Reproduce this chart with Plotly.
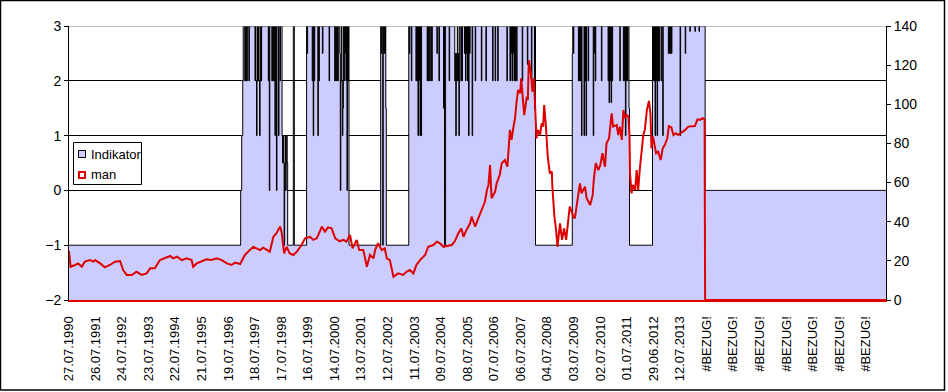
import plotly.graph_objects as go

# ---------------- data ----------------
N_WEEKS = 1600
tick_labels = ["27.07.1990", "26.07.1991", "24.07.1992", "23.07.1993", "22.07.1994",
               "21.07.1995", "19.07.1996", "18.07.1997", "17.07.1998", "16.07.1999",
               "14.07.2000", "13.07.2001", "12.07.2002", "11.07.2003", "09.07.2004",
               "08.07.2005", "07.07.2006", "06.07.2007", "04.07.2008", "03.07.2009",
               "02.07.2010", "01.07.2011", "29.06.2012", "12.07.2013"] + ["#BEZUG!"] * 7
LABEL_EVERY = 52
legend_names = ["Indikator", "man"]

# Indikator: level segments (start week, level)
ind_start = [0, 336, 338, 340, 341, 428, 439, 441, 465, 548, 610, 621, 665, 913, 985, 986, 1097, 1142, 1245]
ind_level = [-1, 0, 1, 2, 3, -1, 3, -1, 3, -1, 3, -1, 3, -1, 2.5, 3, -1, 3, 0]

# Indikator: one-week dips inside the high blocks (week, level)
dip_week = [344, 346, 348, 352, 364, 366, 367, 368, 370, 372, 373, 374, 376, 390, 392, 397, 399, 401, 403,
            406, 410, 413, 417, 418, 419, 420, 421, 422, 423, 424, 425, 426, 427,
            466, 476, 478, 480, 487, 489, 496, 509, 520, 522, 524, 526, 530, 531, 532, 534, 535, 536, 538,
            540, 542, 544, 546,
            611, 614, 616, 618, 620,
            666, 670, 679, 681, 683, 685, 687, 689, 701, 703, 705, 708, 710, 720, 724, 733, 735, 736, 744,
            755, 756, 757, 758, 759, 761, 762, 763, 767, 769, 774, 776, 778, 780, 782, 784, 789, 795, 807,
            816, 829, 834, 839, 857, 863, 865, 867, 869, 871, 873, 876, 887, 897, 905, 911,
            987, 997, 999, 1001, 1003, 1008, 1010, 1012, 1016, 1026, 1028, 1030, 1042, 1055, 1057, 1059,
            1061, 1063, 1078, 1085, 1087, 1089, 1091, 1093, 1096,
            1143, 1145, 1147, 1149, 1151, 1153, 1155, 1159, 1162, 1173, 1175, 1177, 1179, 1196, 1206,
            1215, 1225, 1233]
dip_level = [2, 2, 2, 2, 2, 2, 1, 2, 2, 2, 1, 2, 2, 2, 0, 2, 2, 2, 1,
             0, 1, 2, 1, 0.5, 1, 0.5, -1, 0.5, 1, 0, 0.5, 1, 0.5,
             2.5, 2, 1, 2, 1, 2, 2.5, 2, 2, 2, 2, 2, 2.5, 0, 2, 2, 1, 1.5, 2,
             2.5, 2, 0, 2,
             2.5, -1, 2.5, 2.5, 1.5,
             2.5, 2, 2, 2, 1, 2, 1, 1, 2, 2, 2, 2, 2, 2.5, 2, 1.5, -1, -1, 2,
             2, 2.5, 1, 2.5, 2, 2, 2.5, 1, 2, 2, 2.5, 2, 2.5, 2, 1, 2.5, 1, 2, 2,
             2, 2, 2, 2, 2, 2, 2.5, 2, 2.5, 2, 2, 2, 2, 2.3, 2, 1.5,
             2.5, 2, 2, 2, 1, 1, 2, 1, 2, 1, 2.5, 2, 2, 2, 1.6, 2,
             1.6, 2, 2, 2, 2, 1, 2, 2, 1.5,
             2, 2, 1, 2, 1, 2, 2, 2, 1, 2.5, 2.5, 2.5, 2.5, 1, 2.5,
             2.9, 2.9, 2.9]

# man (right axis)
man_week = [0, 3, 12, 18, 25, 31, 41, 48, 51, 61, 70, 80, 90, 100, 106, 113, 123, 132, 142, 152, 159, 168,
            178, 188, 198, 204, 211, 221, 230, 240, 243, 250, 260, 269, 279, 289, 299, 309, 318, 325, 335,
            344, 354, 361, 367, 374, 380, 387, 393, 400, 406, 413, 416, 421, 426, 432, 439, 446, 455, 462,
            472, 478, 485, 495, 501, 507, 514, 521, 530, 537, 543, 550, 555, 563, 568, 576, 583, 589, 596,
            599, 605, 612, 618, 622, 628, 635, 644, 654, 661, 667, 674, 680, 687, 697, 703, 713, 720, 726,
            733, 739, 749, 755, 762, 768, 772, 778, 785, 788, 795, 801, 808, 814, 818, 821, 824, 827, 834,
            837, 843, 847, 853, 858, 863, 866, 870, 873, 876, 879, 883, 885, 889, 891, 896, 898, 900, 904,
            907, 910, 912, 915, 918, 922, 925, 928, 930, 933, 937, 941, 945, 946, 950, 953, 956, 961, 965,
            969, 973, 976, 980, 985, 987, 990, 994, 997, 1000, 1003, 1010, 1013, 1020, 1025, 1027, 1031,
            1036, 1040, 1044, 1049, 1052, 1057, 1062, 1065, 1072, 1075, 1078, 1082, 1085, 1088, 1091, 1095,
            1097, 1098, 1101, 1104, 1108, 1111, 1114, 1117, 1121, 1124, 1127, 1131, 1135, 1138, 1140, 1143,
            1149, 1153, 1158, 1162, 1166, 1171, 1174, 1179, 1183, 1188, 1192, 1199, 1206, 1212, 1219, 1225,
            1230, 1235, 1240, 1244, 1245, 1599]
man_value = [25.0, 17.0, 17.9, 18.7, 17.0, 19.6, 20.4, 19.6, 20.4, 18.7, 16.7, 17.9, 19.6, 19.9, 15.3, 12.8,
             12.8, 14.5, 12.8, 13.6, 16.2, 16.2, 20.4, 21.3, 22.5, 21.3, 22.1, 20.4, 21.3, 20.4, 17.0, 18.7,
             19.6, 20.8, 20.4, 21.3, 20.4, 18.7, 17.9, 19.1, 18.4,
             23.0, 25.5, 27.2, 26.4, 25.5, 26.7, 25.5, 24.7, 32.3, 34.1, 37.5, 34.9, 23.8, 27.2, 23.8, 23.0,
             24.7, 28.1, 31.5, 32.3, 30.7, 31.5, 37.5, 34.9, 37.1, 36.6, 31.5, 30.0, 30.7, 29.8, 33.2, 26.4,
             30.7, 25.5, 25.5, 17.0, 23.0, 21.3, 25.5, 29.0, 25.5, 26.4, 21.3, 20.4, 11.9, 13.6, 12.8, 14.5,
             15.3, 13.6, 17.9, 20.4, 23.0, 27.2, 28.1, 29.8, 29.0, 27.2, 27.6, 28.1, 30.0, 34.1, 36.6, 32.3,
             35.8, 39.2, 42.6, 37.5, 41.7, 46.0, 50.2, 56.2, 58.8, 69.0, 52.0, 55.4, 59.6, 63.9, 69.9, 71.5,
             68.1, 86.9, 81.8, 88.6, 92.9, 101.3, 107.3, 105.6, 113.3, 100.5, 94.5, 103.9, 102.2, 122.6,
             115.8, 106.4, 113.3, 100.5, 82.6, 86.9, 84.3, 90.3, 88.6, 99.6, 90.3, 73.2, 64.7, 65.6, 58.0,
             42.6, 36.6, 27.2, 39.2, 30.7, 36.6, 30.7, 39.2, 47.7, 44.3, 42.6, 41.7, 48.5, 53.7, 59.6, 54.5,
             57.9, 52.0, 48.5, 53.7, 61.3, 69.9, 66.4, 69.0, 75.0, 68.1, 80.1, 82.6, 95.4, 88.6, 89.4, 84.3,
             88.6, 81.8, 97.1, 92.9, 94.5, 93.7, 83.5, 64.7, 54.5, 58.8, 56.2, 66.4, 56.2, 66.4, 75.0, 84.3,
             86.9, 97.1, 101.7, 95.4, 77.5, 83.5, 75.0, 75.8, 71.5, 77.5, 79.2, 82.6, 88.9, 88.2, 84.3, 85.2,
             84.3, 85.5, 86.9, 88.6, 88.9, 88.9, 92.3, 92.0, 92.9, 92.3, 0.0, 0.0]

# ---------------- build series ----------------
weeks = list(range(N_WEEKS))
indikator = []
seg = 0
for w in weeks:
    while seg + 1 < len(ind_start) and w >= ind_start[seg + 1]:
        seg += 1
    indikator.append(ind_level[seg])
for w, lv in zip(dip_week, dip_level):
    indikator[w] = lv

tick_vals = [i * LABEL_EVERY for i in range(len(tick_labels))]

LAV = "#CCCCFF"
RED = "#DD0000"
FONT = "Arial, Liberation Sans, sans-serif"

fig = go.Figure()
fig.add_trace(go.Scatter(x=weeks, y=[-2] * N_WEEKS, mode="lines", line=dict(width=0),
                         showlegend=False, hoverinfo="skip"))
fig.add_trace(go.Scatter(x=weeks, y=indikator, mode="lines", line=dict(color="black", width=1, shape="hv"),
                         fill="tonexty", fillcolor=LAV, showlegend=False, name=legend_names[0]))
fig.add_trace(go.Scatter(x=man_week, y=man_value, mode="lines", yaxis="y2",
                         line=dict(color=RED, width=2), showlegend=False, name=legend_names[1]))

L, R, T, B = 69, 886, 26, 300
W, H = R - L, B - T
def px(xp):
    return (xp - L) / W
def py(yp):
    return (B - yp) / H

# legend drawn as box + swatches + text (Excel style)
shapes = [
    dict(type="line", xref="paper", yref="y", x0=0, x1=1, y0=3, y1=3,
         line=dict(color="#808080", width=1), layer="above"),
    dict(type="rect", xref="paper", yref="paper", x0=px(0.5), x1=px(944.5), y0=py(390), y1=py(0.5),
         line=dict(color="black", width=1.5), layer="above"),
    dict(type="rect", xref="paper", yref="paper", x0=px(73.5), x1=px(141.5), y0=py(184.5), y1=py(142.5),
         line=dict(color="black", width=1), fillcolor="white", layer="above"),
    dict(type="rect", xref="paper", yref="paper", x0=px(78.5), x1=px(85.5), y0=py(157.5), y1=py(150.5),
         line=dict(color="black", width=1), fillcolor=LAV, layer="above"),
    dict(type="rect", xref="paper", yref="paper", x0=px(79), x1=px(85), y0=py(178), y1=py(172),
         line=dict(color=RED, width=2), fillcolor="white", layer="above"),
]
annotations = [
    dict(xref="paper", yref="paper", x=px(88.5), y=py(154), text=legend_names[0], showarrow=False,
         xanchor="left", yanchor="middle", font=dict(size=13)),
    dict(xref="paper", yref="paper", x=px(88.5), y=py(175), text=legend_names[1], showarrow=False,
         xanchor="left", yanchor="middle", font=dict(size=13)),
]

fig.update_layout(
    width=948, height=392,
    margin=dict(l=L, r=948 - R, t=T, b=392 - B),
    paper_bgcolor="white", plot_bgcolor="white",
    font=dict(family=FONT, size=13, color="black"),
    xaxis=dict(range=[0, N_WEEKS - 1], tickmode="array", tickvals=tick_vals, ticktext=tick_labels,
               tickangle=-90, showgrid=False, zeroline=False, showline=True, linecolor=RED, linewidth=2,
               ticks="outside", ticklen=9, tickcolor="rgba(0,0,0,0)", tickfont=dict(size=13)),
    yaxis=dict(range=[-2, 3], dtick=1, showgrid=True, gridcolor="black", gridwidth=1, zeroline=False,
               showline=True, linecolor="black", linewidth=1, ticks="outside", ticklen=4, tickcolor="black",
               tickfont=dict(size=14)),
    yaxis2=dict(range=[0, 140], dtick=20, overlaying="y", side="right", showgrid=False, zeroline=False,
                showline=True, linecolor="black", linewidth=1, ticks="outside", ticklen=4, tickcolor="black",
                tickfont=dict(size=14)),
    showlegend=False,
    shapes=shapes,
    annotations=annotations,
)

fig.write_html("out.html", config={"displayModeBar": False},
               post_script="document.body.style.margin='0px';document.body.style.overflow='hidden';")
